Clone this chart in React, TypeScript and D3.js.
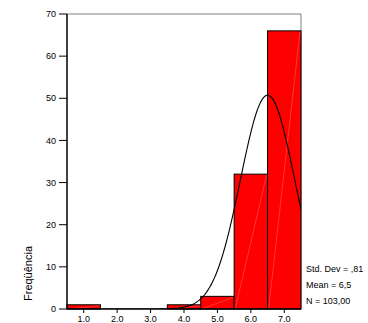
import React from "react";
import * as d3 from "d3";

const binCenters = [1, 2, 3, 4, 5, 6, 7];
const frequencies = [1, 0, 0, 1, 3, 32, 66];
const yTicks = [0, 10, 20, 30, 40, 50, 60, 70];
const xTickLabels = ["1.0", "2.0", "3.0", "4.0", "5.0", "6.0", "7.0"];
const statsLines = ["Std. Dev = ,81", "Mean = 6,5", "N = 103,00"];
const mean = 6.5;
const stdDev = 0.81;
const total = 103;
const binWidth = 1;

const W = 368;
const H = 323;
const left = 67;
const right = 301;
const top = 14;
const bottom = 309;
const font = "'Liberation Sans', Arial, sans-serif";

export default function App() {
  const x = d3.scaleLinear().domain([0.5, 7.5]).range([left, right]);
  const y = d3.scaleLinear().domain([0, 70]).range([bottom, top]);

  const curveXs = d3.range(0.5, 7.5001, 0.02);
  const normal = (v: number) =>
    (total * binWidth) / (stdDev * Math.sqrt(2 * Math.PI)) *
    Math.exp(-((v - mean) ** 2) / (2 * stdDev * stdDev));
  const line = d3
    .line<number>()
    .x((d) => x(d))
    .y((d) => y(Math.min(normal(d), 70)))
    .curve(d3.curveLinear);

  return (
    <svg
      width={W}
      height={H}
      style={{ position: "absolute", left: 0, top: 0, background: "#fff" }}
      fontFamily={font}
    >
      <defs>
        <clipPath id="plotclip">
          <rect x={left} y={top} width={right - left} height={bottom - top} />
        </clipPath>
      </defs>
      <line x1={left} x2={right} y1={top} y2={top} stroke="#808080" strokeWidth={1} />
      <line x1={right} x2={right} y1={top} y2={bottom} stroke="#808080" strokeWidth={1} />
      {binCenters.map((c, i) => {
        const f = frequencies[i];
        if (f <= 0) return null;
        const x0 = x(c - binWidth / 2);
        const x1 = x(c + binWidth / 2);
        const yt = y(f);
        return (
          <g key={c}>
            <rect
              x={x0}
              y={yt}
              width={x1 - x0}
              height={bottom - yt}
              fill="#ff0000"
              stroke="#000"
              strokeWidth={1}
            />
            <line
              x1={x0 + 1}
              y1={bottom}
              x2={x1 - 1}
              y2={yt + 1}
              stroke="#ff8080"
              strokeWidth={0.6}
              opacity={0.7}
            />
          </g>
        );
      })}
      <path
        d={line(curveXs) || ""}
        fill="none"
        stroke="#000"
        strokeWidth={1.1}
        clipPath="url(#plotclip)"
      />
      <line x1={left} x2={left} y1={top} y2={bottom} stroke="#000" strokeWidth={1.5} />
      <line x1={left} x2={right} y1={bottom} y2={bottom} stroke="#000" strokeWidth={1.5} />
      {yTicks.map((t) => (
        <g key={t}>
          <line x1={left - 8} x2={left} y1={y(t)} y2={y(t)} stroke="#000" strokeWidth={1} />
          <text
            x={left - 11}
            y={y(t)}
            dy="0.35em"
            textAnchor="end"
            fontSize={9}
            fill="#000"
          >
            {t}
          </text>
        </g>
      ))}
      {binCenters.map((c, i) => (
        <g key={c}>
          <line x1={x(c)} x2={x(c)} y1={bottom} y2={bottom + 4} stroke="#000" strokeWidth={1} />
          <text x={x(c)} y={bottom + 13} textAnchor="middle" fontSize={9} fill="#000">
            {xTickLabels[i]}
          </text>
        </g>
      ))}
      <text
        transform={`translate(32, 301) rotate(-90)`}
        textAnchor="start"
        fontSize={11}
        fill="#000"
      >
        Freqüência
      </text>
      {statsLines.map((s, i) => (
        <text key={s} x={306} y={272 + i * 16} fontSize={9} fill="#000">
          {s}
        </text>
      ))}
    </svg>
  );
}
